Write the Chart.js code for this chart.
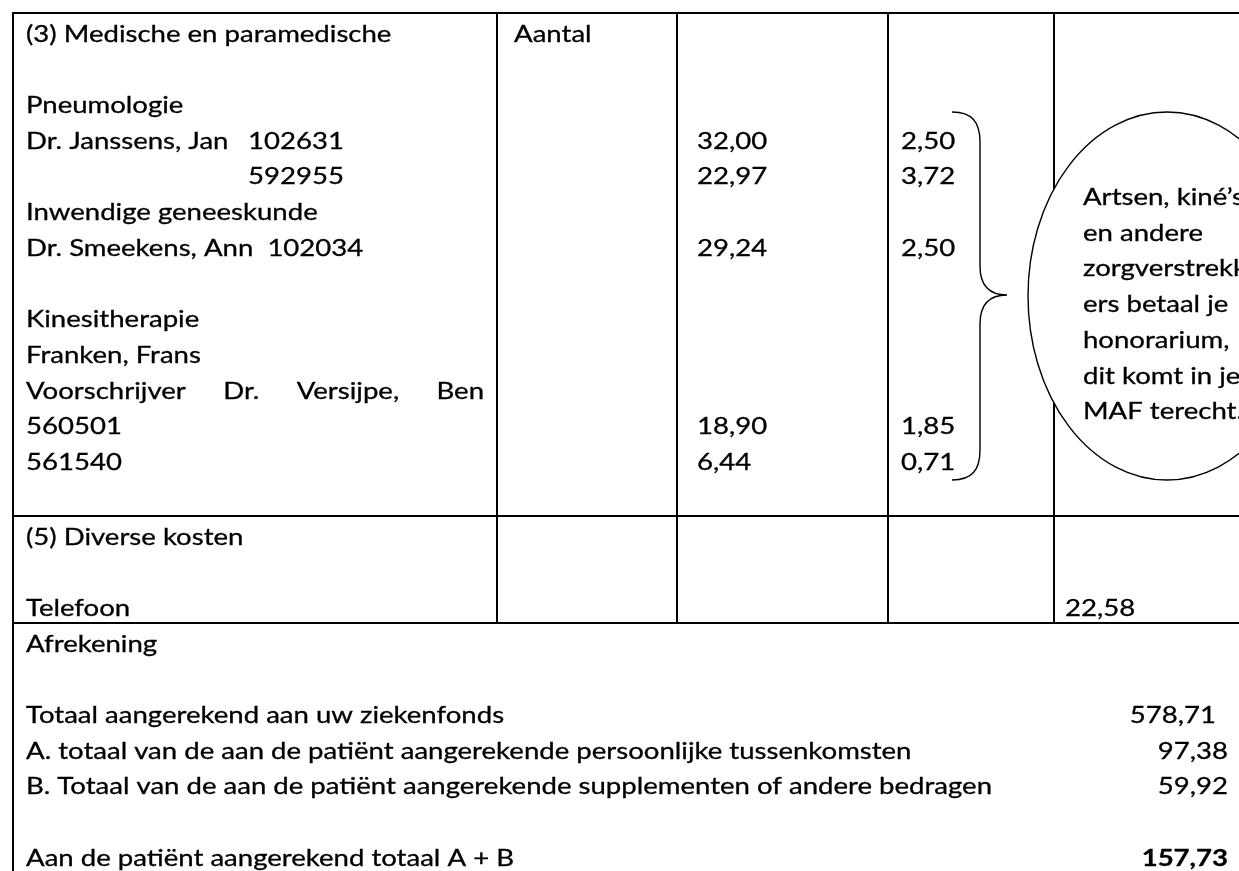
<!DOCTYPE html>
<html>
<head>
<meta charset="utf-8">
<script src="https://cdn.jsdelivr.net/npm/chart.js@4/dist/chart.umd.min.js"></script>
<style>
  html, body { margin: 0; padding: 0; background: #fff; overflow: hidden; }
  #wrap { width: 1239px; height: 871px; }
</style>
</head>
<body>
<div id="wrap"><canvas id="bill" width="1239" height="871"></canvas></div>
<script>
// (3) first column, one entry per text line
var medLines = ['(3) Medische en paramedische', '', 'Pneumologie', 'Dr. Janssens, Jan', '', 'Inwendige geneeskunde',
    'Dr. Smeekens, Ann  102034', '', 'Kinesitherapie', 'Franken, Frans', 'Voorschrijver Dr. Versijpe, Ben', '560501', '561540'];
var medCodes = ['', '', '', '102631', '592955', '', '', '', '', '', '', '', ''];
var headAantal = 'Aantal';

// amounts, on the lines of medLines they belong to
var amountLines = [3, 4, 6, 11, 12];
var amounts = [32.00, 22.97, 29.24, 18.90, 6.44];
var personal = [2.50, 3.72, 2.50, 1.85, 0.71];

var noteLines = ['Artsen, kiné’s', 'en andere', 'zorgverstrekk', 'ers betaal je', 'honorarium,', 'dit komt in je', 'MAF terecht.'];

// (5)
var diverseLines = ['(5) Diverse kosten', '', 'Telefoon'];
var diverseCost = 22.58;

// afrekening
var settleLines = ['Afrekening', '', 'Totaal aangerekend aan uw ziekenfonds',
    'A. totaal van de aan de patiënt aangerekende persoonlijke tussenkomsten',
    'B. Totaal van de aan de patiënt aangerekende supplementen of andere bedragen', '',
    'Aan de patiënt aangerekend totaal A + B'];
var settleValues = [null, null, 578.71, 97.38, 59.92, null, 157.73];

function euro(v) {
    return v.toFixed(2).replace('.', ',');
}

// page layout (scale units = px)
var colX = [13, 497, 677, 888, 1054];
var rowY = [13, 516, 623];
var pitch = 35.7;
var firstBase = 28.5;
var pad = 13;

var tablePlugin = {
    id: 'billTable',
    afterDraw: function (chart) {
        var ctx = chart.ctx;
        var xs = chart.scales.x, ys = chart.scales.y;
        var X = function (v) { return xs.getPixelForValue(v); };
        var Y = function (v) { return ys.getPixelForValue(v); };
        var right = xs.max;

        // Lato squeezed a bit to get Calibri's narrow widths
        var font = '23.5px Lato';
        var bold = 'bold 23.5px Lato';
        ctx.font = font;
        var squeeze = 966 / ctx.measureText(settleLines[4]).width;

        function text(t, x, y, f, align) {
            ctx.save();
            ctx.font = f || font;
            ctx.textAlign = align || 'left';
            ctx.translate(x, y);
            ctx.scale(squeeze, 1);
            ctx.fillText(t, 0, 0);
            ctx.lineWidth = 0.3;
            ctx.strokeText(t, 0, 0);
            ctx.restore();
        }
        function width(t) {
            ctx.font = font;
            return ctx.measureText(t).width * squeeze;
        }

        ctx.save();
        ctx.fillStyle = '#fff';
        ctx.fillRect(0, 0, chart.width, chart.height);

        // grid
        ctx.strokeStyle = '#000';
        ctx.lineWidth = 2;
        ctx.beginPath();
        rowY.forEach(function (y) { ctx.moveTo(X(colX[0]) - 1, Y(y)); ctx.lineTo(X(right), Y(y)); });
        colX.forEach(function (x, i) {
            ctx.moveTo(X(x), Y(rowY[0]));
            ctx.lineTo(X(x), Y(i === 0 ? ys.max : rowY[2]));
        });
        ctx.stroke();

        // speech ellipse, white filled over the last column line
        ctx.beginPath();
        ctx.ellipse(X(1167), Y(296), X(1167) - X(1028), Y(480) - Y(296), 0, 0, Math.PI * 2);
        ctx.fillStyle = '#fff';
        ctx.fill();
        ctx.lineWidth = 1.4;
        ctx.stroke();

        // brace
        ctx.beginPath();
        ctx.moveTo(X(952), Y(112));
        ctx.bezierCurveTo(X(972), Y(112), X(980), Y(122), X(980), Y(142));
        ctx.lineTo(X(980), Y(266));
        ctx.bezierCurveTo(X(980), Y(286), X(990), Y(295), X(1007), Y(295));
        ctx.bezierCurveTo(X(990), Y(295), X(980), Y(304), X(980), Y(324));
        ctx.lineTo(X(980), Y(450));
        ctx.bezierCurveTo(X(980), Y(470), X(972), Y(480), X(952), Y(480));
        ctx.stroke();

        ctx.fillStyle = '#000';
        ctx.textBaseline = 'alphabetic';

        var base = function (row, i) { return Y(rowY[row] + firstBase + i * pitch); };

        medLines.forEach(function (t, i) {
            if (!t) return;
            if (i === 10) {
                // justified line in the original cell
                var words = t.split(' ');
                var total = 0;
                words.forEach(function (w) { total += width(w); });
                var gap = (X(colX[1] - pad) - X(colX[0] + pad) - total) / (words.length - 1);
                var x = X(colX[0] + pad);
                words.forEach(function (w) { text(w, x, base(0, i)); x += width(w) + gap; });
            } else {
                text(t, X(colX[0] + pad), base(0, i));
            }
        });
        medCodes.forEach(function (c, i) {
            if (c) text(c, X(248), base(0, i));
        });
        text(headAantal, X(colX[1] + 17), base(0, 0));

        amountLines.forEach(function (li, k) {
            text(euro(amounts[k]), X(colX[2] + 20), base(0, li));
            text(euro(personal[k]), X(colX[3] + 13), base(0, li));
        });

        noteLines.forEach(function (t, i) {
            text(t, X(1083), Y(205 + i * pitch));
        });

        diverseLines.forEach(function (t, i) {
            if (t) text(t, X(colX[0] + pad), base(1, i));
        });
        text(euro(diverseCost), X(colX[4] + 11), base(1, 2));

        settleLines.forEach(function (t, i) {
            if (t) text(t, X(colX[0] + pad), base(2, i));
        });
        settleValues.forEach(function (v, i) {
            if (v === null) return;
            text(euro(v), X(i === 2 ? 1216 : 1228), base(2, i), i === settleValues.length - 1 ? bold : font, 'right');
        });
        ctx.restore();
    }
};

new Chart(document.getElementById('bill'), {
    type: 'scatter',
    data: { datasets: [{ data: [] }] },
    options: {
        responsive: false,
        animation: false,
        devicePixelRatio: 1,
        layout: { padding: 0 },
        plugins: { legend: { display: false }, tooltip: { enabled: false } },
        scales: {
            x: { type: 'linear', min: 0, max: 1239, display: false },
            y: { type: 'linear', min: 0, max: 871, reverse: true, display: false }
        }
    },
    plugins: [tablePlugin]
});
</script>
</body>
</html>
